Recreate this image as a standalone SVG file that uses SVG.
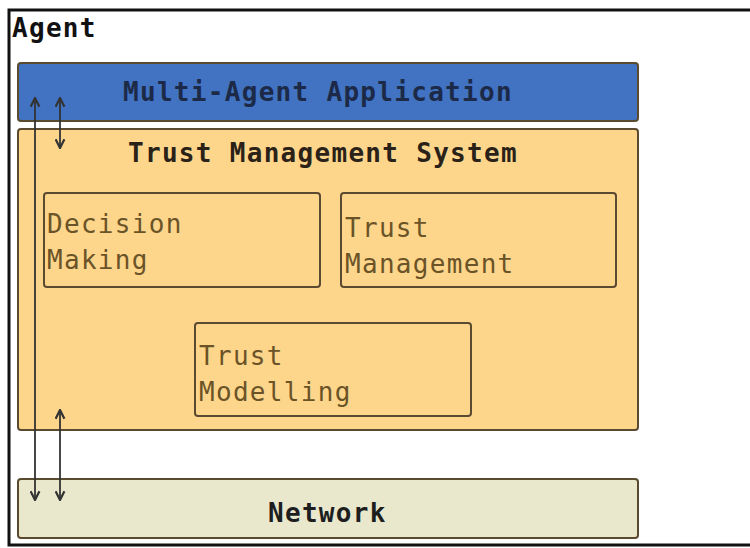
<svg xmlns="http://www.w3.org/2000/svg" width="750" height="548" viewBox="0 0 750 548">
<defs>
<style>
.t{font-family:"DejaVu Sans Mono","Liberation Mono",monospace;font-size:26px;letter-spacing:1.3px}
.b{font-weight:bold}
.box{stroke:#5a4a30;stroke-width:2}
.conn{stroke:#333;stroke-width:1.8;fill:none}
</style>
<marker id="ah" viewBox="0 0 10 10" refX="9" refY="5" markerWidth="11" markerHeight="11" orient="auto-start-reverse" markerUnits="userSpaceOnUse">
<path d="M1,1 L9,5 L1,9" fill="none" stroke="#333" stroke-width="2"/>
</marker>
</defs>
<rect width="750" height="548" fill="#ffffff"/>
<g id="agent">
<rect x="9" y="10" width="745" height="535" fill="#ffffff" stroke="#111" stroke-width="3"/>
<text class="t b" x="12" y="37" fill="#111">Agent</text>
</g>
<g id="multi-agent-application">
<rect class="box" x="18" y="63" width="620" height="58" rx="3" fill="#4173c2" stroke="#2a3a5a"/>
<text class="t b" x="123" y="101" fill="#1c2a48">Multi-Agent Application</text>
</g>
<g id="trust-management-system">
<rect class="box" x="18" y="129" width="620" height="301" rx="3" fill="#fdd68b"/>
<text class="t b" x="128" y="162" fill="#2a2218">Trust Management System</text>
</g>
<g id="decision-making">
<rect class="box" x="44" y="193" width="276" height="94" rx="3" fill="#fdd68b" stroke="#6b5328"/>
<text class="t" x="47" y="233" fill="#6b5328">Decision</text>
<text class="t" x="47" y="269" fill="#6b5328">Making</text>
</g>
<g id="trust-management">
<rect class="box" x="341" y="193" width="275" height="94" rx="3" fill="#fdd68b" stroke="#6b5328"/>
<text class="t" x="345" y="237" fill="#6b5328">Trust</text>
<text class="t" x="345" y="273" fill="#6b5328">Management</text>
</g>
<g id="trust-modelling">
<rect class="box" x="195" y="323" width="276" height="93" rx="3" fill="#fdd68b" stroke="#6b5328"/>
<text class="t" x="199" y="365" fill="#6b5328">Trust</text>
<text class="t" x="199" y="401" fill="#6b5328">Modelling</text>
</g>
<g id="network">
<rect class="box" x="18" y="479" width="620" height="59" rx="3" fill="#e9e8cd" stroke="#3a3a30"/>
<text class="t b" x="268" y="522" fill="#1e1e1e">Network</text>
</g>
<g id="connectors">
<line class="conn" x1="35" y1="98" x2="35" y2="500" marker-start="url(#ah)" marker-end="url(#ah)"/>
<line class="conn" x1="60" y1="98" x2="60" y2="148" marker-start="url(#ah)" marker-end="url(#ah)"/>
<line class="conn" x1="60" y1="410" x2="60" y2="500" marker-start="url(#ah)" marker-end="url(#ah)"/>
</g>
</svg>
